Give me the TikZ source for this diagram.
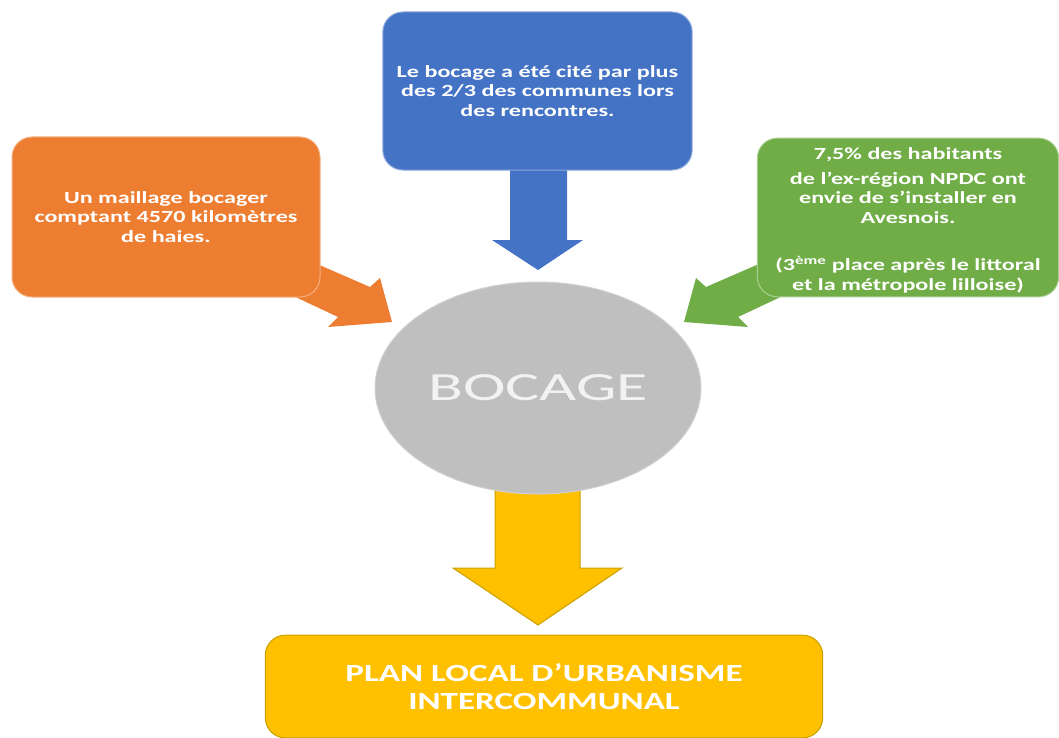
\documentclass[tikz,border=0pt]{standalone}
\usepackage{fontspec}
\usetikzlibrary{shapes.geometric}
\setmainfont{Carlito}[FakeStretch=1.42]
\newfontfamily\bocfont{Carlito}[FakeStretch=1.6]
\definecolor{cOrange}{HTML}{ED7D31}
\definecolor{cBlue}{HTML}{4472C4}
\definecolor{cGreen}{HTML}{70AD47}
\definecolor{cGray}{HTML}{BFBFBF}
\definecolor{cYellow}{HTML}{FFC000}
\definecolor{cGold}{HTML}{C9A000}
\tikzset{
  infobox/.style={rounded corners=15pt, line width=0.75pt, align=center, text=white,
    font=\bfseries\fontsize{12.75pt}{14.6pt}\selectfont, inner sep=0pt},
}
\begin{document}
\begin{tikzpicture}[x=0.75pt,y=-0.75pt]
\useasboundingbox (0,0) rectangle (1059,738);
% arrows (drawn first so boxes cover their tails)
\fill[cOrange] (278,247) -- (370,287) -- (380,278) -- (392,322) -- (328,327) -- (338,317) -- (255,278) -- cycle;
\fill[cGreen] (798,247) -- (706,287) -- (696,278) -- (684,322) -- (748,327) -- (738,317) -- (821,278) -- cycle;
\fill[cBlue] (510,160) -- (567,160) -- (567,240) -- (583,240) -- (538,270) -- (492,240) -- (510,240) -- cycle;
\filldraw[fill=cYellow, draw=cGold, line width=0.75pt] (495,470) -- (580,470) -- (580,568) -- (622,568) -- (538,625) -- (453,568) -- (495,568) -- cycle;
% boxes
\node[infobox, fill=cOrange, draw=cOrange!60!white, minimum width=231pt, minimum height=120pt] (orange) at (166,217)
  {Un maillage bocager\\comptant 4570 kilomètres\\de haies.};
\node[infobox, fill=cBlue, draw=cBlue!60!white, minimum width=232pt, minimum height=118.5pt] (blue) at (537.5,91)
  {Le bocage a été cité par plus\\des 2/3 des communes lors\\des rencontres.};
\node[infobox, fill=cGreen, draw=cGreen!60!white, minimum width=226pt, minimum height=119pt] (green) at (908,217.5) {};
\node[align=center, text=white, font=\bfseries\fontsize{12.75pt}{14.6pt}\selectfont, inner sep=0pt] (greentext) at (908,220)
  {7,5\% des habitants\\[4.2pt]de l’ex-région NPDC ont\\envie de s’installer en\\Avesnois.\\[21pt](3\textsuperscript{ème} place après le littoral\\et la métropole lilloise)};
\node[ellipse, fill=cGray, draw=cGray!70!white, line width=0.75pt, minimum width=244.5pt, minimum height=159pt, inner sep=0pt,
  text=white!95!black, font=\bocfont\fontsize{30pt}{36pt}\selectfont] (bocage) at (538,388) {BOCAGE};
\node[infobox, fill=cYellow, draw=cGold, minimum width=418pt, minimum height=77pt,
  font=\bfseries\fontsize{18.5pt}{20.5pt}\selectfont] (plui) at (544,686.5)
  {PLAN LOCAL D’URBANISME\\INTERCOMMUNAL};
\end{tikzpicture}
\end{document}
